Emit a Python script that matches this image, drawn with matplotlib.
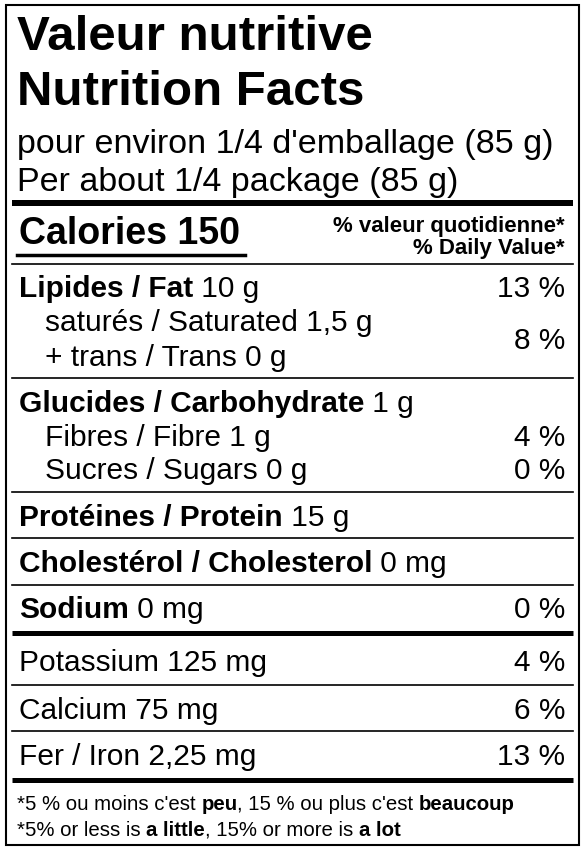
import matplotlib.pyplot as plt

plt.rcParams['font.family'] = ['Liberation Sans', 'DejaVu Sans']

title_lines = ["Valeur nutritive", "Nutrition Facts"]
serving_lines = ["pour environ 1/4 d'emballage (85 g)", "Per about 1/4 package (85 g)"]
calories = ("Calories", "150")
dv_header = ["% valeur quotidienne*", "% Daily Value*"]
# (bold part, regular part, indent, percent, y)
rows = [
    ("Lipides / Fat", " 10 g", False, "13 %", 288),
    ("", "saturés / Saturated 1,5 g", True, "", 322),
    ("", "+ trans / Trans 0 g", True, "", 357),
    ("Glucides / Carbohydrate", " 1 g", False, "", 403),
    ("", "Fibres / Fibre 1 g", True, "4 %", 437),
    ("", "Sucres / Sugars 0 g", True, "0 %", 470),
    ("Protéines / Protein", " 15 g", False, "", 517),
    ("Cholestérol / Cholesterol", " 0 mg", False, "", 563),
    ("Sodium", " 0 mg", False, "0 %", 609),
    ("", "Potassium 125 mg", False, "4 %", 662),
    ("", "Calcium 75 mg", False, "6 %", 710),
    ("", "Fer / Iron 2,25 mg", False, "13 %", 756),
]
sat_trans_dv = "8 %"
thin_lines = [264, 378, 492, 538, 585, 685, 731]
thick_lines = [(203, 6), (633, 5), (780, 5)]
footnotes = [
    [("*5 % ou moins c'est ", False), ("peu", True), (", 15 % ou plus c'est ", False), ("beaucoup", True)],
    [("*5% or less is ", False), ("a little", True), (", 15% or more is ", False), ("a lot", True)],
]

fig = plt.figure(figsize=(5.86, 8.5), dpi=100)
ax = fig.add_axes([0, 0, 1, 1])
ax.set_xlim(0, 586)
ax.set_ylim(850, 0)
ax.axis('off')
renderer = fig.canvas.get_renderer()


def pieces(x, y, parts, size):
    for s, bold in parts:
        t = ax.text(x, y, s, fontsize=size, fontweight='bold' if bold else 'normal',
                    va='baseline', ha='left')
        bb = t.get_window_extent(renderer)
        x += bb.width


L, R = 17, 565
ax.add_patch(plt.Rectangle((6, 5), 573, 840, fill=False, lw=1.5, color='black'))
for i, s in enumerate(title_lines):
    ax.text(L, 50 + 55 * i, s, fontsize=35.5, fontweight='bold', va='baseline')
for i, s in enumerate(serving_lines):
    ax.text(L, 153 + 38 * i, s, fontsize=24.5, va='baseline')
for y, w in thick_lines:
    ax.plot([12, 573], [y, y], color='black', lw=w * 0.72, solid_capstyle='butt')
for y in thin_lines:
    ax.plot([12, 573], [y, y], color='black', lw=1.2)

pieces(19, 244, [(calories[0] + " " + calories[1], True)], 27)
ax.plot([17, 245], [255, 255], color='black', lw=2.5)
ax.text(R, 232, dv_header[0], fontsize=16, fontweight='bold', ha='right', va='baseline')
ax.text(R, 254, dv_header[1], fontsize=16, fontweight='bold', ha='right', va='baseline')

for bold, reg, indent, dv, y in rows:
    x = 45 if indent else L + 2
    pieces(x, y + 9, [(bold, True), (reg, False)] if bold else [(reg, False)], 21.5)
    if dv:
        ax.text(R, y + 9, dv, fontsize=21.5, ha='right', va='baseline')
ax.text(R, 349, sat_trans_dv, fontsize=21.5, ha='right', va='baseline')

for i, parts in enumerate(footnotes):
    pieces(L, 810 + 26 * i, parts, 14.7)

fig.savefig('out.png', dpi=100)
